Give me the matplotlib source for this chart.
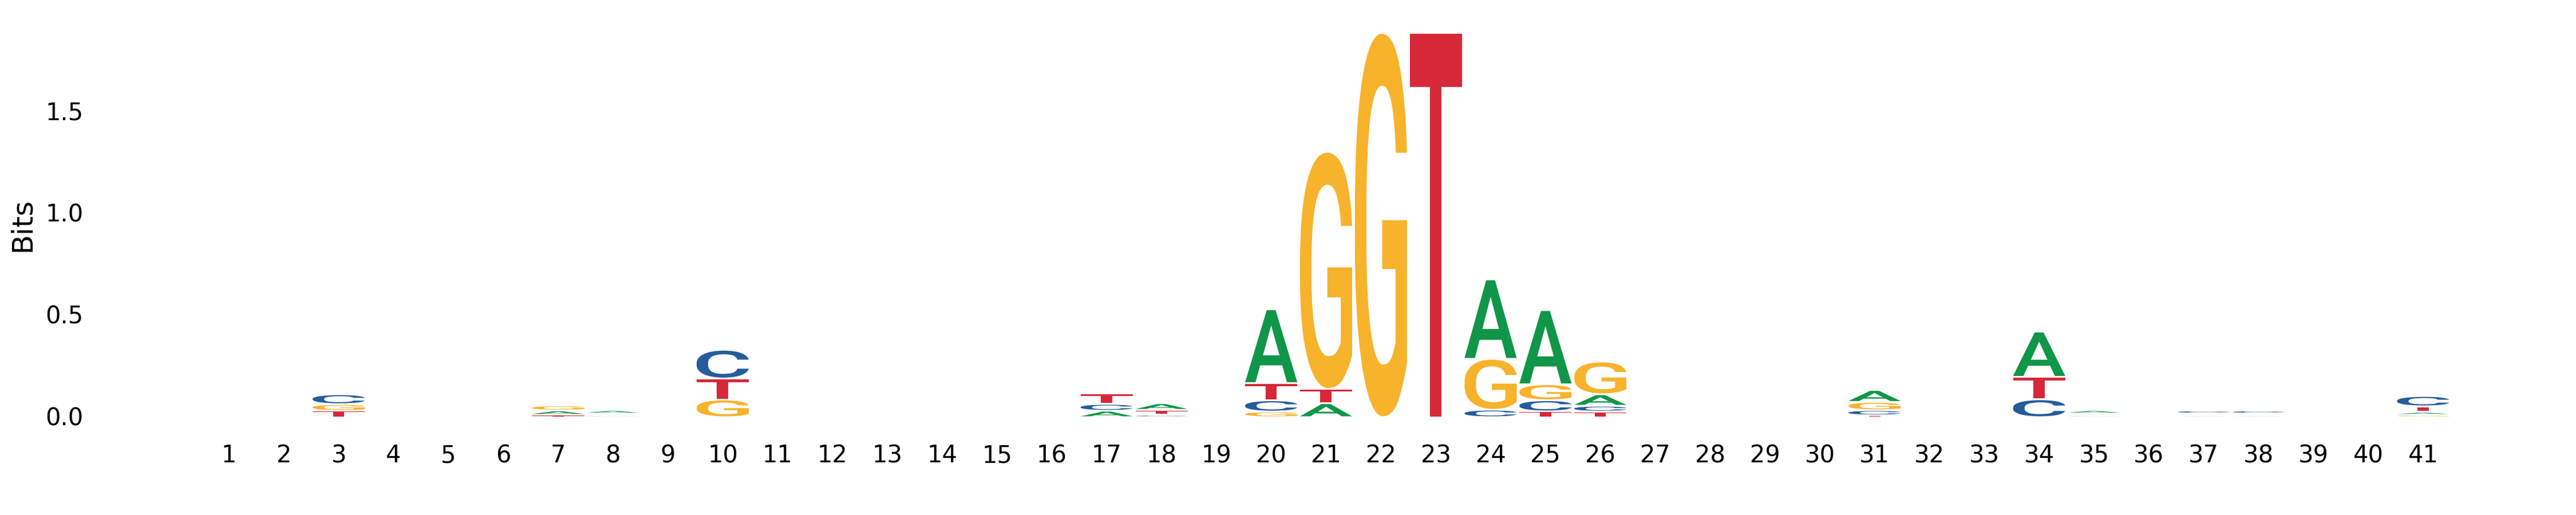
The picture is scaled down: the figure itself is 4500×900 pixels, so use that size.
import numpy as np
import matplotlib
matplotlib.use("Agg")
import matplotlib.pyplot as plt
from matplotlib.textpath import TextPath
from matplotlib.patches import PathPatch
from matplotlib.font_manager import FontProperties
from matplotlib.transforms import Affine2D

# information content (bits) per base at each position
positions = np.arange(1, 42)
A = [0, 0, 0, 0, 0, 0, 0.013, 0.008, 0, 0,
     0, 0, 0, 0, 0, 0, 0.023, 0.024, 0, 0.353,
     0.060, 0, 0, 0.381, 0.355, 0.048, 0, 0, 0, 0,
     0.050, 0, 0, 0.213, 0.008, 0, 0.0005, 0.0005, 0, 0,
     0.006]
C = [0, 0, 0.040, 0, 0, 0, 0, 0.0005, 0, 0.132,
     0, 0, 0, 0, 0, 0, 0.025, 0.003, 0, 0.047,
     0, 0, 0, 0.028, 0.046, 0.020, 0, 0, 0, 0,
     0.017, 0, 0, 0.079, 0.0005, 0, 0.006, 0.006, 0, 0,
     0.042]
G = [0, 0, 0.024, 0, 0, 0, 0.016, 0, 0, 0.078,
     0, 0, 0, 0, 0, 0, 0, 0, 0, 0.019,
     1.153, 1.875, 0, 0.241, 0.070, 0.152, 0, 0, 0, 0,
     0.032, 0, 0, 0, 0.0005, 0, 0.0005, 0.0005, 0, 0,
     0.003]
T = [0, 0, 0.023, 0, 0, 0, 0.003, 0.0005, 0, 0.095,
     0, 0, 0, 0, 0, 0, 0.042, 0.016, 0, 0.076,
     0.062, 0, 1.875, 0, 0.020, 0.019, 0, 0, 0, 0,
     0.0005, 0, 0, 0.102, 0, 0, 0, 0, 0, 0,
     0.019]

bases = ["A", "C", "G", "T"]
heights = np.array([A, C, G, T]).T
colors = {"A": "#109648", "C": "#255C99", "G": "#F7B32B", "T": "#D62839"}

# Roboto Medium is the closest match to the letter shapes
font = FontProperties(family="Roboto", weight=500)
gap = 0.0084   # whitespace between stacked letters
width = 0.95


def draw_glyph(ax, ch, x, floor, h):
    tp = TextPath((0, 0), ch, size=1, prop=font)
    ext = tp.get_extents()
    tr = (Affine2D().translate(-ext.x0, -ext.y0)
          .scale(width / ext.width, h / ext.height)
          .translate(x - width / 2, floor))
    ax.add_patch(PathPatch(tr.transform_path(tp), facecolor=colors[ch],
                           edgecolor="none", lw=0))


fig = plt.figure(figsize=(15, 3), dpi=300)
ax = fig.add_axes([160.5 / 4500, (900 - 727.5) / 900, 4312 / 4500, (727.5 - 59) / 900])

top = 0
for p, row in zip(positions, heights):
    floor = 0
    # smallest letter at the bottom of each stack
    for i in np.argsort(row, kind="stable"):
        if row[i] <= 0:
            continue
        draw_glyph(ax, bases[i], p, floor, row[i])
        floor += row[i] + gap
    top = max(top, floor - gap)

ax.set_xlim(-1.5, 43.5)
ax.set_ylim(0, top)
ax.set_xticks(positions)
ax.set_xticklabels([str(p) for p in positions])
ax.set_yticks([0, 0.5, 1.0, 1.5])
ax.set_yticklabels(["0.0", "0.5", "1.0", "1.5"])
ax.tick_params(axis="x", length=0, pad=11.5, labelsize=10)
ax.tick_params(axis="y", length=0, pad=3.5, labelsize=10)
ax.set_ylabel("Bits", fontsize=12)
for s in ax.spines.values():
    s.set_visible(False)

fig.savefig("out.png", dpi=300)
